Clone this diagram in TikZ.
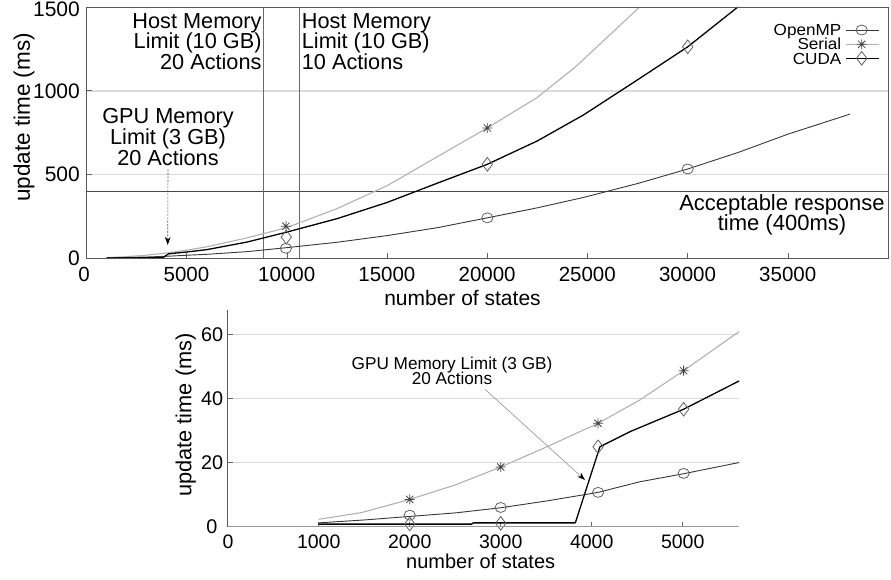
\documentclass[tikz,border=0pt]{standalone}
\usepackage{fontspec}
\setmainfont{Liberation Sans}
\usetikzlibrary{arrows.meta}

% font of a given size and line distance
\newcommand\plotfont[2]{\fontsize{#1}{#2}\selectfont\lineskiplimit=-20pt\relax}

\tikzset{
  frameline/.style={draw=black!65, line width=0.9pt},
  gridline/.style={draw=black!14, line width=1.3pt},
  markline/.style={draw=black!58, line width=0.9pt},
  limitline/.style={draw=black!72, line width=0.8pt},
  ompline/.style={draw=black!78, line width=0.9pt, line join=round},
  serline/.style={draw=black!30, line width=1.1pt, line join=round},
  cudline/.style={draw=black, line width=1.3pt, line join=round},
  tickline/.style={draw=black!60, line width=0.7pt},
  lbl/.style={inner sep=0pt, text=black},
  cmark/.pic={\draw[black!62, line width=0.8pt] (0,0) ellipse[x radius=5.6pt, y radius=5pt];},
  dmark/.pic={\draw[black!62, line width=0.8pt, line join=miter]
      (-5.2pt,0) -- (0,6.8pt) -- (5.2pt,0) -- (0,-6.8pt) -- cycle;},
  smark/.pic={\draw[black!72, line width=0.8pt]
      (-5pt,0) -- (5pt,0) (0,-5pt) -- (0,5pt)
      (-3.6pt,-3.6pt) -- (3.6pt,3.6pt) (-3.6pt,3.6pt) -- (3.6pt,-3.6pt);},
}

\begin{document}
\begin{tikzpicture}[x=1pt, y=-1pt]
\useasboundingbox (0,0) rectangle (891,579);
\fill[white] (0,0) rectangle (891,579);

% ================= upper plot: 0..40000 states, 0..1500 ms =================
% grid lines at 500 and 1000 ms
\draw[gridline] (86.5,174.3) -- (888,174.3);
\draw[gridline] (86.5,91) -- (888,91);
% acceptable response time line (400 ms)
\draw[limitline] (86.5,191.1) -- (888,191.1);
% host memory limits
\draw[markline] (263,7) -- (263,258);
\draw[markline] (299.3,7) -- (299.3,258);

\begin{scope}[shift={(86.5,258)}, x=20.04pt, y=0.16733pt]
  % ticks
  \foreach \k in {5,10,...,35} \draw[tickline] (\k,0) -- ++(0,5pt);
  \foreach \v in {500,1000} \draw[tickline] (0,\v) -- ++(5pt,0);
  % Serial
  \draw[serline] (1,2) -- (2,8) -- (3,17) -- (4,30) -- (5,47) -- (6,67) -- (8,120)
    -- (10,182) -- (12.5,295) -- (15,432) -- (17.5,605) -- (20,777) -- (22.5,960)
    -- (24.4,1142) -- (27.6,1500);
  % OpenMP
  \draw[ompline] (1,1) -- (2,3.3) -- (3,6) -- (4.07,10.7) -- (5,16.5) -- (6,22)
    -- (8,38) -- (10,62) -- (12.5,94) -- (15,134) -- (17.5,181) -- (20,240)
    -- (22.5,300) -- (24.8,362) -- (27.5,445) -- (30,532) -- (32.5,630)
    -- (35,740) -- (38.1,860);
  % CUDA
  \draw[cudline] (1,0.3) -- (3.8,1) -- (4.1,25) -- (5,36) -- (6,50) -- (8,95)
    -- (10,155) -- (12.5,235) -- (15,332) -- (17.5,447) -- (20,560) -- (22.5,700)
    -- (24.8,855) -- (27.5,1065) -- (30,1262) -- (32.5,1500);
  % markers
  \pic at (9.95,58) {cmark};
  \pic at (20,240) {cmark};
  \pic at (30,532) {cmark};
  \pic at (9.95,190) {smark};
  \pic at (20,777) {smark};
  \pic at (9.97,125) {dmark};
  \pic at (20,560) {dmark};
  \pic at (30,1262) {dmark};
\end{scope}

% frame
\draw[frameline] (86.5,7) rectangle (888,258);

% tick labels
\foreach \v/\y in {0/265, 500/181.5, 1000/98.3, 1500/16}
  \node[lbl, anchor=base east, font=\plotfont{21}{24}] (yt\v) at (80,\y) {\v};
\foreach \k/\x in {0/84, 5000/186.5, 10000/286.7, 15000/386.9, 20000/487.1,
                   25000/587.3, 30000/687.5, 35000/787.7}
  \node[lbl, anchor=base, font=\plotfont{20.5}{24}] (xt\k) at (\x,281.7) {\k};

% axis labels
\node[lbl, anchor=base, font=\plotfont{21}{24}] (xlabA) at (462.5,305) {number of states};
\node[lbl, rotate=90, font=\plotfont{22.5}{24}] (ylabA) at (24,117.5) {update time (ms)};

% annotations
\node[lbl, anchor=north east, align=right, font=\plotfont{21.7}{20.5}] (hostA) at (261.7,13.3)
  {Host Memory\\Limit (10 GB)\\20 Actions};
\node[lbl, anchor=north west, align=left, font=\plotfont{21.7}{20.5}] (hostB) at (301.7,13.3)
  {Host Memory\\Limit (10 GB)\\10 Actions};
\node[lbl, anchor=north, align=center, font=\plotfont{21.7}{20.8}] (gpuA) at (168,108.3)
  {GPU Memory\\Limit (3 GB)\\20 Actions};
\node[lbl, anchor=north, align=center, font=\plotfont{22}{20}] (accept) at (782,194.3)
  {Acceptable response\\time (400ms)};
\coordinate (gpuAtip) at (167.7,245);
\draw[black!70, line width=0.6pt, dash pattern=on 2pt off 1.4pt,
      -{Stealth[length=8pt, width=5.5pt, black]}]
  ([yshift=-4pt]gpuA.south) -- (gpuAtip);

% legend
\node[lbl, anchor=base east, xscale=1.07, font=\plotfont{16}{18}] (legO) at (841.5,35) {OpenMP};
\node[lbl, anchor=base east, xscale=1.07, font=\plotfont{16}{18}] (legS) at (841.5,49.3) {Serial};
\node[lbl, anchor=base east, xscale=1.07, font=\plotfont{16}{18}] (legC) at (841.5,64.3) {CUDA};
\draw[ompline] (846,30) -- (879,30);
\pic at (861.7,30) {cmark};
\draw[serline] (846,44.3) -- (879,44.3);
\pic at (861.7,44.3) {smark};
\draw[cudline] (846,58.3) -- (879,58.3);
\pic at (861.7,58.3) {dmark};

% ================= lower plot: 0..5600 states, 0..67 ms =================
\foreach \y in {334,398.3,462.3}
  \draw[gridline, line width=1pt] (227.7,\y) -- (739,\y);

\begin{scope}[shift={(227.7,526.7)}, x=91pt, y=3.21pt]
  \foreach \k in {1,...,5} \draw[tickline] (\k,0) -- ++(0,5pt);
  \foreach \v in {20,40,60} \draw[tickline] (0,\v) -- ++(5pt,0);
  % Serial
  \draw[serline] (1,2.3) -- (1.47,4.4) -- (2,8.5) -- (2.5,13) -- (3,18.6)
    -- (3.5,24.8) -- (4.07,32.2) -- (4.53,39.5) -- (5.01,48.6) -- (5.62,60.8);
  % OpenMP
  \draw[ompline] (1,1.2) -- (1.5,2.1) -- (2,3.2) -- (2.5,4.3) -- (3,5.9) -- (3.5,8)
    -- (4.07,10.7) -- (4.53,14) -- (5.01,16.5) -- (5.62,20);
  % CUDA
  \draw[cudline] (1,0.8) -- (2.68,0.8) -- (2.7,1.2) -- (3.82,1.2) -- (4.09,24.9)
    -- (4.42,29.6) -- (5.01,36.6) -- (5.62,45.4);
  % markers
  \pic at (2,3.6) {cmark};
  \pic at (3,6) {cmark};
  \pic at (4.07,10.7) {cmark};
  \pic at (5.01,16.6) {cmark};
  \pic at (2,8.5) {smark};
  \pic at (3,18.6) {smark};
  \pic at (4.07,32.2) {smark};
  \pic at (5.01,48.6) {smark};
  \pic at (2,0.84) {dmark};
  \pic at (3,1.05) {dmark};
  \pic at (4.07,24.9) {dmark};
  \pic at (5.01,36.6) {dmark};
\end{scope}

% axes
\draw[black!40, line width=0.9pt] (227.7,526.7) -- (739,526.7);
\draw[black!65, line width=0.9pt] (227.7,526.7) -- (227.7,310);

% tick labels
\foreach \v/\y/\x in {0/533.3/217.7, 20/469.3/223.3, 40/405.3/223.3, 60/341.5/223.3}
  \node[lbl, anchor=base east, font=\plotfont{19.8}{22}] (ytb\v) at (\x,\y) {\v};
\foreach \k/\x in {0/228, 1000/318.7, 2000/409.7, 3000/500.7, 4000/591.7, 5000/682.7}
  \node[lbl, anchor=base, font=\plotfont{19.5}{22}] (xtb\k) at (\x,548.3) {\k};

% axis labels
\node[lbl, anchor=base, font=\plotfont{20}{22}] (xlabB) at (480.7,568.3) {number of states};
\node[lbl, rotate=90, font=\plotfont{21.8}{24}] (ylabB) at (185.8,415) {update time (ms)};

% annotation with arrow
\node[lbl, anchor=north, align=center, font=\plotfont{17.2}{15.5}] (gpuB) at (452,356.5)
  {GPU Memory Limit (3 GB)\\20 Actions};
\coordinate (gpuBfrom) at (485,389.3);
\coordinate (gpuBtip) at (585,480);
\draw[black!38, line width=0.7pt, -{Stealth[length=8pt, width=5.5pt, black]}]
  (gpuBfrom) -- (gpuBtip);

\end{tikzpicture}
\end{document}
